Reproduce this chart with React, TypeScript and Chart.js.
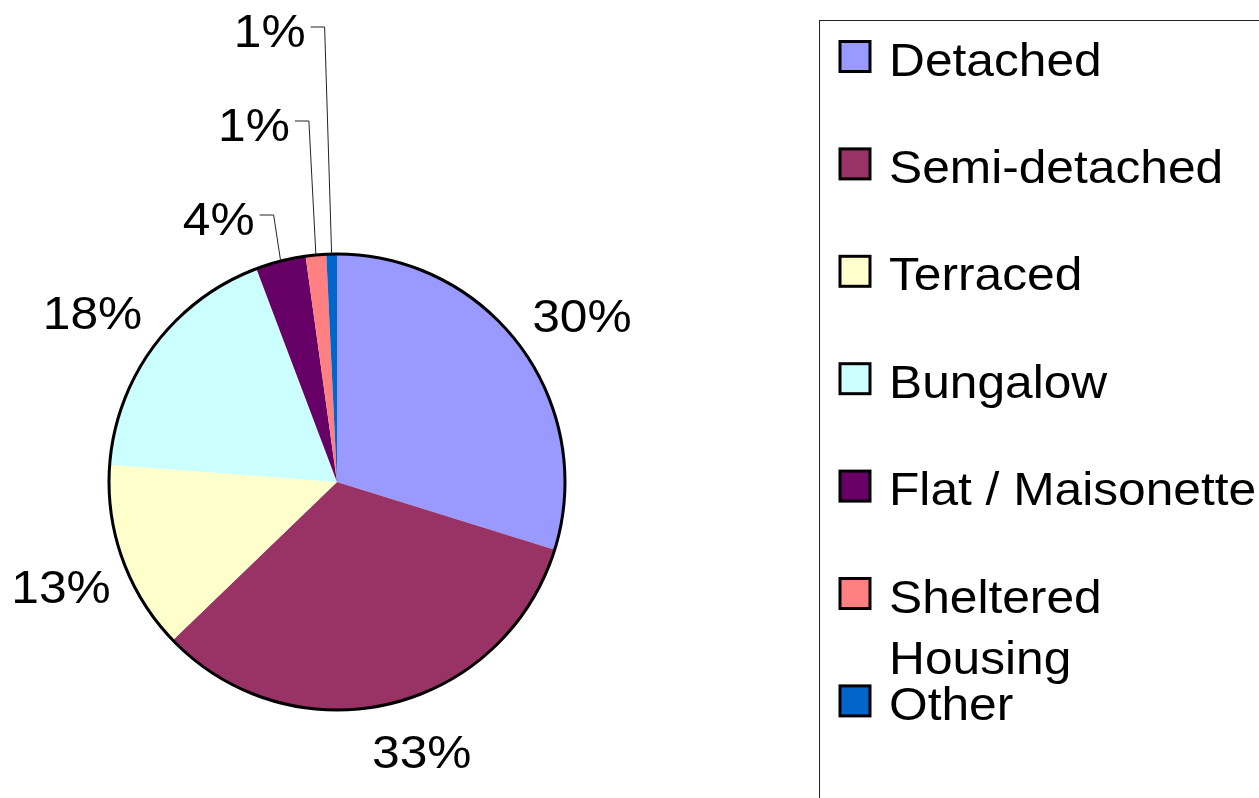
import React, { useEffect, useRef } from "react";
import { Chart, registerables } from "chart.js";

Chart.register(...registerables);

const CATEGORIES: (string | string[])[] = [
  "Detached",
  "Semi-detached",
  "Terraced",
  "Bungalow",
  "Flat / Maisonette",
  ["Sheltered", "Housing"],
  "Other",
];
const VALUES = [29.8, 33.0, 13.4, 18.05, 3.55, 1.45, 0.75];
const COLORS = ["#9999FF", "#993366", "#FFFFCC", "#CCFFFF", "#660066", "#FF8080", "#0066CC"];

// layout tweaks for the outside labels (pixels), not data
const LABEL_NUDGE: [number, number][] = [[6, 9], [21, 0], [4, 4], [-7, 8], [0, 0], [0, 0], [0, 0]];

const FONT = '46px "Liberation Sans", Arial, sans-serif';
const SX = 1.08; // horizontal stretch of the text

function drawText(ctx: CanvasRenderingContext2D, text: string, x: number, y: number, align: CanvasTextAlign) {
  ctx.save();
  ctx.translate(x, y);
  ctx.scale(SX, 1);
  ctx.textAlign = align;
  ctx.textBaseline = "alphabetic";
  ctx.fillText(text, 0, 0);
  ctx.restore();
}

const piePlugin = {
  id: "pieDecor",
  afterDatasetsDraw(chart: any) {
    const ctx: CanvasRenderingContext2D = chart.ctx;
    const meta = chart.getDatasetMeta(0);
    const values: number[] = chart.data.datasets[0].data;
    const total = values.reduce((a, b) => a + b, 0);
    const first = meta.data[0].getProps(["x", "y", "outerRadius"], true);
    const cx = first.x, cy = first.y, R = first.outerRadius;

    // outline
    ctx.save();
    ctx.beginPath();
    ctx.arc(cx, cy, R, 0, Math.PI * 2);
    ctx.lineWidth = 3;
    ctx.strokeStyle = "#000";
    ctx.stroke();
    ctx.restore();

    ctx.save();
    ctx.font = FONT;
    ctx.fillStyle = "#000";
    let smallRank = 0;
    meta.data.forEach((arc: any, i: number) => {
      const p = arc.getProps(["startAngle", "endAngle"], true);
      const mid = (p.startAngle + p.endAngle) / 2;
      const pct = Math.round((values[i] / total) * 100);
      const text = pct + "%";
      const c = Math.cos(mid), s = Math.sin(mid);
      if (values[i] / total >= 0.05) {
        const w = ctx.measureText(text).width * SX;
        const h = 46;
        const ext = Math.abs(c) * w / 2 + Math.abs(s) * h / 2;
        const d = R + 15 + ext;
        const lx = cx + c * d + LABEL_NUDGE[i][0];
        const ly = cy + s * d + LABEL_NUDGE[i][1];
        drawText(ctx, text, lx, ly + 16.5, "center");
      } else {
        const ax = cx + c * R, ay = cy + s * R;
        const elbowY = cy - R - (39 + smallRank * 94);
        const elbowX = ax - 7;
        const endX = elbowX - 14;
        ctx.beginPath();
        ctx.moveTo(ax, ay);
        ctx.lineTo(elbowX, elbowY);
        ctx.lineTo(endX, elbowY);
        ctx.lineWidth = 1;
        ctx.strokeStyle = "#222";
        ctx.stroke();
        drawText(ctx, text, endX - 5, elbowY + 20, "right");
        smallRank++;
      }
    });
    ctx.restore();
  },
  afterDraw(chart: any) {
    const ctx: CanvasRenderingContext2D = chart.ctx;
    const labels = chart.data.labels;
    const colors = chart.data.datasets[0].backgroundColor;
    ctx.save();
    ctx.strokeStyle = "#222";
    ctx.lineWidth = 1;
    ctx.strokeRect(819.5, 20.5, 1000, 1000);
    ctx.font = FONT;
    ctx.fillStyle = "#000";
    const top = 56.5, step = 107.4;
    labels.forEach((lab: any, i: number) => {
      const yc = top + i * step;
      ctx.fillStyle = colors[i];
      ctx.fillRect(840, yc - 15, 30, 30);
      ctx.lineWidth = 3;
      ctx.strokeStyle = "#000";
      ctx.strokeRect(840, yc - 15, 30, 30);
      ctx.fillStyle = "#000";
      const lines = Array.isArray(lab) ? lab : [lab];
      lines.forEach((ln: string, k: number) => {
        drawText(ctx, ln, 889, yc + 19 + k * 61, "left");
      });
    });
    ctx.restore();
  },
};

export default function App() {
  const ref = useRef<HTMLCanvasElement>(null);
  useEffect(() => {
    if (!ref.current) return;
    const chart = new Chart(ref.current, {
      type: "pie",
      data: {
        labels: CATEGORIES as any,
        datasets: [
          {
            data: VALUES,
            backgroundColor: COLORS,
            borderWidth: 0,
          },
        ],
      },
      options: {
        responsive: false,
        animation: false,
        layout: { padding: { left: 109, right: 694, top: 254, bottom: 88 } },
        plugins: {
          legend: { display: false },
          tooltip: { enabled: false },
        },
      },
      plugins: [piePlugin],
    });
    return () => chart.destroy();
  }, []);
  return (
    <div style={{ position: "fixed", left: 0, top: 0, width: 1259, height: 798, background: "#fff" }}>
      <canvas ref={ref} width={1259} height={798} />
    </div>
  );
}
